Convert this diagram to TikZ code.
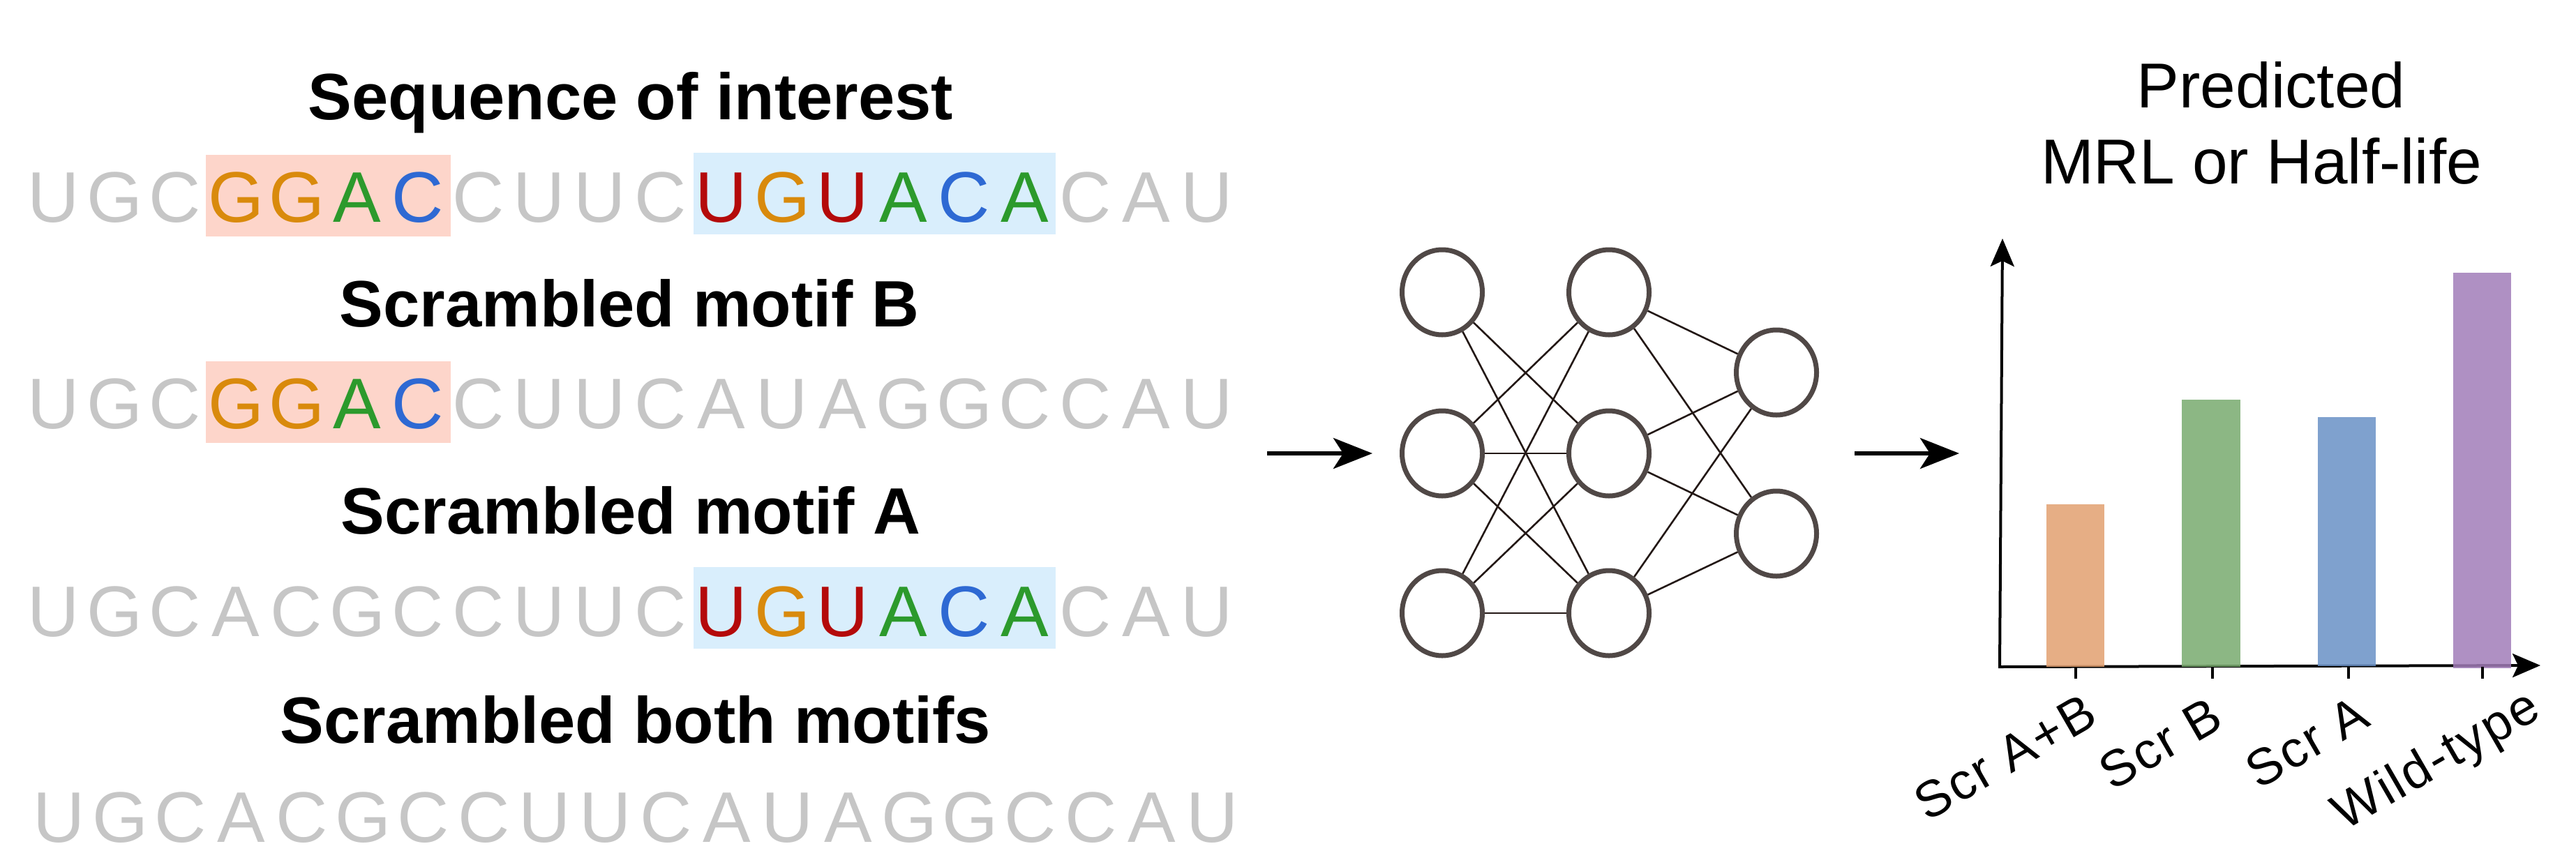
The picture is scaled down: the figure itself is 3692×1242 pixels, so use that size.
\documentclass[tikz,border=0pt]{standalone}
\usepackage{fontspec}
\setmainfont{Liberation Sans}
\usetikzlibrary{arrows.meta,shapes.geometric}
\definecolor{cg}{HTML}{C6C6C6}
\definecolor{cG}{HTML}{D98A0C}
\definecolor{cA}{HTML}{2C9A2C}
\definecolor{cC}{HTML}{2E69D3}
\definecolor{cU}{HTML}{B40A0A}
\definecolor{boxpink}{HTML}{FDD5CA}
\definecolor{boxblue}{HTML}{D9EEFC}
\definecolor{nnline}{HTML}{504846}
\definecolor{edgecol}{HTML}{231815}
\definecolor{barO}{HTML}{E2A070}
\definecolor{barG}{HTML}{78AA6E}
\definecolor{barB}{HTML}{6890C6}
\definecolor{barP}{HTML}{A17CB8}
\begin{document}
\begin{tikzpicture}[x=0.25pt,y=-0.25pt,
  title/.style={font=\fontsize{23.5}{28}\selectfont\bfseries, anchor=base, inner sep=0},
  seq/.style={font=\fontsize{25.7}{30}\selectfont, anchor=base, inner sep=0},
  neuron/.style={ellipse, draw=nnline, line width=1.75pt, minimum width=28.75pt, minimum height=30.5pt, inner sep=0, fill=white},
  nnedge/.style={draw=edgecol, line width=0.65pt},
  bigarrow/.style={line width=1.5pt, -{Stealth[length=14pt, width=11pt, inset=3.5pt]}},
  axisline/.style={line width=1pt, line join=miter},
  ticksty/.style={line width=1pt},
  ticklabel/.style={font=\fontsize{18.3}{22}\selectfont\addfontfeatures{LetterSpace=4}, rotate=30, anchor=base west, inner sep=0},
  rtitle/.style={font=\fontsize{22.75}{27}\selectfont, anchor=base, inner sep=0}]
\useasboundingbox (0,0) rectangle (3692,1242);

% ---------- left: sequences ----------
\node[title] (t1) at (904,171) {Sequence of interest};
\node[title] (t2) at (902,468) {Scrambled motif B};
\node[title] (t3) at (904,765) {Scrambled motif A};
\node[title] (t4) at (911,1065) {Scrambled both motifs};

\fill[boxpink] (295,222) rectangle (646,339);
\fill[boxblue] (994,219) rectangle (1513,336);
\fill[boxpink] (295,518) rectangle (646,635);
\fill[boxblue] (994,813) rectangle (1513,930);

\foreach \ch/\cl [count=\i from 0] in {U/cg,G/cg,C/cg,G/cG,G/cG,A/cA,C/cC,C/cg,U/cg,U/cg,C/cg,U/cU,G/cG,U/cU,A/cA,C/cC,A/cA,C/cg,A/cg,U/cg}
  \node[seq, text=\cl] (ra\i) at ({77+87*\i},318) {\ch};
\foreach \ch/\cl [count=\i from 0] in {U/cg,G/cg,C/cg,G/cG,G/cG,A/cA,C/cC,C/cg,U/cg,U/cg,C/cg,A/cg,U/cg,A/cg,G/cg,G/cg,C/cg,C/cg,A/cg,U/cg}
  \node[seq, text=\cl] (rb\i) at ({77+87*\i},614.5) {\ch};
\foreach \ch/\cl [count=\i from 0] in {U/cg,G/cg,C/cg,A/cg,C/cg,G/cg,C/cg,C/cg,U/cg,U/cg,C/cg,U/cU,G/cG,U/cU,A/cA,C/cC,A/cA,C/cg,A/cg,U/cg}
  \node[seq, text=\cl] (rc\i) at ({77+87*\i},912) {\ch};
\foreach \ch/\cl [count=\i from 0] in {U/cg,G/cg,C/cg,A/cg,C/cg,G/cg,C/cg,C/cg,U/cg,U/cg,C/cg,A/cg,U/cg,A/cg,G/cg,G/cg,C/cg,C/cg,A/cg,U/cg}
  \node[seq, text=\cl] (rd\i) at ({85+87*\i},1207.5) {\ch};

% ---------- arrow 1 ----------
\coordinate (a1s) at (1816,650);
\coordinate (a1e) at (1967,650);
\draw[bigarrow] (a1s) -- (a1e);

% ---------- neural network ----------
\node[neuron] (n11) at (2067,419) {};
\node[neuron] (n12) at (2067,650) {};
\node[neuron] (n13) at (2067,879) {};
\node[neuron] (n21) at (2306,419) {};
\node[neuron] (n22) at (2306,650) {};
\node[neuron] (n23) at (2306,879) {};
\node[neuron] (n31) at (2546,534) {};
\node[neuron] (n32) at (2546,765) {};
\foreach \a/\b in {n11/n22,n11/n23,n12/n21,n12/n22,n12/n23,n13/n21,n13/n22,n13/n23,
                   n21/n31,n21/n32,n22/n31,n22/n32,n23/n31,n23/n32}
  \draw[nnedge] (\a) -- (\b);

% ---------- arrow 2 ----------
\coordinate (a2s) at (2658,650);
\coordinate (a2e) at (2808,650);
\draw[bigarrow] (a2s) -- (a2e);

% ---------- chart ----------
\node[rtitle] (rt1) at (3255,154) {Predicted};
\node[rtitle] (rt2) at (3241,263) {MRL or Half-life};

\coordinate (ytop) at (2870,342);
\coordinate (orig) at (2866,956);
\coordinate (xend) at (3641,954);
\draw[axisline, {Stealth[length=10pt,width=8.5pt,inset=2pt]}-{Stealth[length=10pt,width=8.5pt,inset=2pt]}] (ytop) -- (orig) -- (xend);

\fill[barO, fill opacity=0.85] (2933,956) rectangle (3016,723);
\fill[barG, fill opacity=0.85] (3127,956) rectangle (3211,573);
\fill[barB, fill opacity=0.85] (3322,955) rectangle (3405,598);
\fill[barP, fill opacity=0.85] (3516,958) rectangle (3599,391);

\foreach \x in {2975,3171,3366,3558}
  \draw[ticksty] (\x,956) -- (\x,973);

\node[ticklabel] (l1) at (2762,1179) {Scr A+B};
\node[ticklabel] (l2) at (3027,1135) {Scr B};
\node[ticklabel] (l3) at (3237,1133) {Scr A};
\node[ticklabel] (l4) at (3360,1192) {Wild-type};
\end{tikzpicture}
\end{document}
